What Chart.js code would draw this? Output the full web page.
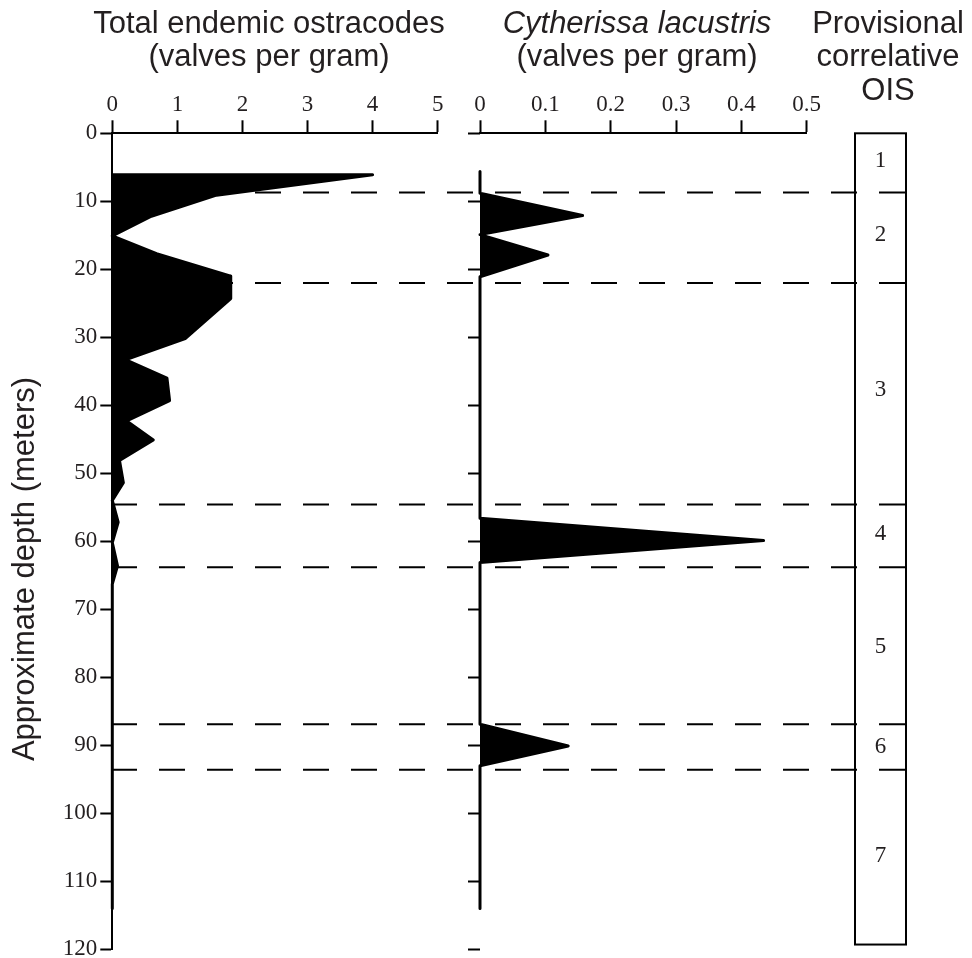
<!DOCTYPE html>
<html>
<head>
<meta charset="utf-8">
<title>Endemic ostracodes by depth</title>
<script src="https://cdn.jsdelivr.net/npm/chart.js@4.4.1/dist/chart.umd.min.js"></script>
<style>
  html, body { margin: 0; padding: 0; background: #ffffff; overflow: hidden; }
  #stage { position: relative; width: 972px; height: 958px; overflow: hidden; }
  #stage canvas { position: absolute; left: 0; top: 0; }
  .heading {
    position: absolute;
    top: 6px;
    font-family: "Liberation Sans", Arial, sans-serif;
    font-size: 31px;
    line-height: 33.4px;
    color: #231f20;
    text-align: center;
    white-space: nowrap;
  }
  #headTotal     { left: 69px;  width: 400px; }
  #headLacustris { left: 437px; width: 400px; }
  #headOis       { left: 803px; width: 170px; }
  #depthTitle {
    left: -226px;
    top: 552px;
    width: 500px;
    height: 34px;
    transform: rotate(-90deg);
  }
</style>
</head>
<body>
<div id="stage">
  <canvas id="chartOis" width="972" height="1000"></canvas>
  <canvas id="chartTotal" width="972" height="1000"></canvas>
  <canvas id="chartLacustris" width="972" height="1000"></canvas>

  <div class="heading" id="headTotal">Total endemic ostracodes<br>(valves per gram)</div>
  <div class="heading" id="headLacustris"><i>Cytherissa lacustris</i><br>(valves per gram)</div>
  <div class="heading" id="headOis">Provisional<br>correlative<br>OIS</div>
  <div class="heading" id="depthTitle">Approximate depth (meters)</div>
</div>

<script>
/* ------------------------------------------------------------
   Data
------------------------------------------------------------ */
var DEPTH_TICKS = [0, 10, 20, 30, 40, 50, 60, 70, 80, 90, 100, 110, 120];

// Total endemic ostracodes, valves per gram
var TOTAL_TICKS  = [0, 1, 2, 3, 4, 5];
var TOTAL_DEPTHS = [6.1, 6.1, 9.1, 12.2, 15.1, 17.7, 21.0, 24.3, 30.2, 33.3, 36.0,
                    39.3, 42.3, 45.1, 48.1, 51.4, 54.0, 57.2, 60.2, 63.6, 66.3, 114.0];
var TOTAL_VALUES = [0, 4.0, 1.6, 0.6, 0, 0.68, 1.82, 1.82, 1.12, 0.2, 0.84,
                    0.88, 0.22, 0.63, 0.11, 0.17, 0, 0.09, 0, 0.08, 0, 0];

// Cytherissa lacustris, valves per gram
var LACUSTRIS_TICKS  = [0, 0.1, 0.2, 0.3, 0.4, 0.5];
var LACUSTRIS_DEPTHS = [5.6, 8.8, 12.1, 14.9, 17.9, 21.1, 56.6, 59.9, 63.1, 86.9, 90.1, 93.0, 114.0];
var LACUSTRIS_VALUES = [0, 0, 0.157, 0, 0.104, 0, 0, 0.434, 0, 0, 0.135, 0, 0];

// Provisional correlative OIS column
var OIS_BOUNDARIES   = [8.7, 22.0, 54.6, 63.8, 86.9, 93.6];
var OIS_COLUMN       = [0, 119.3];
var OIS_STAGES       = ['1', '2', '3', '4', '5', '6', '7'];
var OIS_LABEL_DEPTHS = [4.0, 14.9, 37.8, 58.9, 75.6, 90.2, 106.2];


/* ------------------------------------------------------------
   Shared look
------------------------------------------------------------ */
var INK  = '#000000';
var TEXT = '#231f20';
var TICK_FONT = { family: '"Liberation Serif", "Times New Roman", serif', size: 23 };

// all three canvases share one depth scale, so the plot boxes are pinned
var PLOT_TOP    = 133.3;
var PLOT_BOTTOM = 949.3;
var CANVAS_W = 972;
var CANVAS_H = 1000;
var DASH_START = 111;

function points(values, depths) {
  return values.map(function (v, i) { return { x: v, y: depths[i] }; });
}

function tickList(list) {
  return function (scale) {
    scale.ticks = list.map(function (v) { return { value: v }; });
  };
}

function depthAxis(showLabels, showBorder, width) {
  return {
    type: 'linear',
    reverse: true,
    min: 0,
    max: 120,
    afterBuildTicks: tickList(DEPTH_TICKS),
    afterFit: function (s) { s.width = width; },
    ticks: { display: showLabels, color: TEXT, font: TICK_FONT, padding: 3 },
    grid: { drawOnChartArea: false, drawTicks: true, tickLength: 12, tickWidth: 2, tickColor: INK },
    border: { display: showBorder, color: INK, width: 2 }
  };
}

function valueAxis(ticks, max) {
  return {
    type: 'linear',
    position: 'top',
    min: 0,
    max: max,
    afterBuildTicks: tickList(ticks),
    afterFit: function (s) { s.height = PLOT_TOP; },
    ticks: { color: TEXT, font: TICK_FONT, padding: 2, maxRotation: 0 },
    grid: { drawOnChartArea: false, drawTicks: true, tickLength: 13, tickWidth: 2, tickColor: INK },
    border: { display: true, color: INK, width: 2 }
  };
}

function profile(canvasId, data, axisX, axisY, right) {
  return new Chart(document.getElementById(canvasId), {
    type: 'line',
    data: {
      datasets: [{
        data: data,
        borderColor: INK,
        backgroundColor: INK,
        borderWidth: 3,
        borderJoinStyle: 'round',
        fill: 'origin',
        pointRadius: 0,
        tension: 0,
        clip: 4
      }]
    },
    options: {
      indexAxis: 'y',
      responsive: false,
      animation: false,
      events: [],
      layout: { padding: { left: 0, top: 0, right: CANVAS_W - right, bottom: CANVAS_H - PLOT_BOTTOM } },
      plugins: { legend: { display: false }, tooltip: { enabled: false } },
      scales: { x: axisX, y: axisY }
    }
  });
}


/* ------------------------------------------------------------
   OIS column: box, stage numbers and dashed stage boundaries
   that run back across both profiles
------------------------------------------------------------ */
var oisColumn = {
  id: 'oisColumn',
  afterDraw: function (chart) {
    var ctx = chart.ctx;
    var area = chart.chartArea;
    var y = chart.scales.y;

    ctx.save();
    ctx.strokeStyle = INK;
    ctx.lineWidth = 2;

    ctx.setLineDash([26, 22]);
    OIS_BOUNDARIES.forEach(function (d) {
      var py = y.getPixelForValue(d);
      ctx.beginPath();
      ctx.moveTo(DASH_START, py);
      ctx.lineTo(area.right, py);
      ctx.stroke();
    });

    ctx.setLineDash([]);
    var top = y.getPixelForValue(OIS_COLUMN[0]);
    var bottom = y.getPixelForValue(OIS_COLUMN[1]);
    ctx.strokeRect(area.left, top, area.right - area.left, bottom - top);

    ctx.fillStyle = TEXT;
    ctx.font = TICK_FONT.size + 'px ' + TICK_FONT.family;
    ctx.textAlign = 'center';
    ctx.textBaseline = 'middle';
    OIS_STAGES.forEach(function (label, i) {
      ctx.fillText(label, (area.left + area.right) / 2, y.getPixelForValue(OIS_LABEL_DEPTHS[i]));
    });
    ctx.restore();
  }
};

new Chart(document.getElementById('chartOis'), {
  type: 'line',
  data: { datasets: [] },
  options: {
    responsive: false,
    animation: false,
    events: [],
    layout: { padding: { left: 855, top: PLOT_TOP, right: CANVAS_W - 906, bottom: CANVAS_H - PLOT_BOTTOM } },
    plugins: { legend: { display: false }, tooltip: { enabled: false } },
    scales: {
      x: { type: 'linear', display: false, min: 0, max: 1 },
      y: { type: 'linear', display: false, reverse: true, min: 0, max: 120 }
    }
  },
  plugins: [oisColumn]
});


/* ------------------------------------------------------------
   The two depth profiles
------------------------------------------------------------ */
profile('chartTotal',
  points(TOTAL_VALUES, TOTAL_DEPTHS),
  valueAxis(TOTAL_TICKS, 5),
  depthAxis(true, true, 112.3),
  437.7);

profile('chartLacustris',
  points(LACUSTRIS_VALUES, LACUSTRIS_DEPTHS),
  valueAxis(LACUSTRIS_TICKS, 0.5),
  depthAxis(false, false, 480),
  806.7);
</script>
</body>
</html>
